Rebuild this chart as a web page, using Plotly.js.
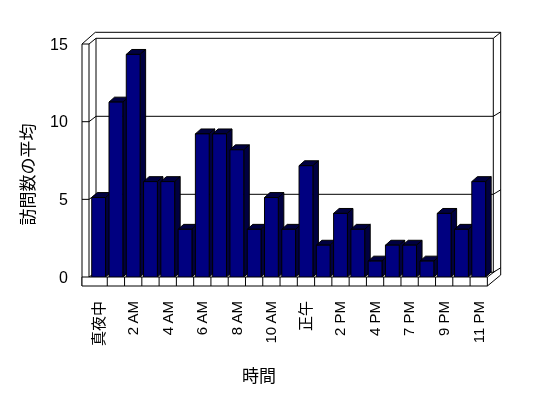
<!DOCTYPE html>
<html>
<head>
<meta charset="utf-8">
<script src="https://cdn.plot.ly/plotly-3.0.1.min.js"></script>
<style>html,body{margin:0;padding:0;background:#fff;} #chart{will-change:transform;}</style>
</head>
<body>
<div id="chart" style="width:548px;height:398px;"></div>
<script>
// ---- data ----
const hours = ["真夜中","1 AM","2 AM","3 AM","4 AM","5 AM","6 AM","7 AM","8 AM","9 AM","10 AM","11 AM",
               "正午","1 PM","2 PM","3 PM","4 PM","6 PM","7 PM","8 PM","9 PM","10 PM","11 PM"];
const visits = [5,11,14,6,6,3,9,9,8,3,5,3,7,2,4,3,1,2,2,1,4,3,6];
const labelIdx = [0,2,4,6,8,10,12,14,16,18,20,22];
const yTicks = [0,5,10,15];
const xTitle = "時間";
const yTitle = "訪問数の平均";

// ---- geometry ----
const FONT = 'Liberation Sans, "Noto Sans CJK JP", sans-serif';
const M = {l:90, r:52, t:38, b:121};
const W = 548 - M.l - M.r, H = 398 - M.t - M.b;
const px = v => (v - M.l) / W;          // pixel x -> paper
const py = v => (M.t + H - v) / H;      // pixel y -> paper
const catW = W / 23.5;
const BW = 0.8, DX = 0.32, DY = 0.31;

const shapes = [];
function seg(x0,y0,x1,y1){
  shapes.push({type:'line', xref:'paper', yref:'paper', layer:'below',
    x0:px(x0), y0:py(y0), x1:px(x1), y1:py(y1), line:{color:'#000', width:1}});
}
function rectP(x0,y0,x1,y1,fill){
  shapes.push({type:'rect', xref:'paper', yref:'paper', layer:'below',
    x0:px(x0), y0:py(y0), x1:px(x1), y1:py(y1), fillcolor:fill, line:{color:'#000', width:1}});
}
// walls
const floorRight = M.l + hours.length * catW;
seg(96,38.3,493.3,38.3);  seg(95.3,32.3,500.7,32.3);
seg(493.3,38.3,493.3,272); seg(500.7,32.3,500.7,275);
seg(493.3,38.3,500.7,32.3);
seg(82,44,82,286); seg(89,44,89,277); seg(96,38.3,96,272);
seg(82,44,89,44); seg(82,44,95.3,32.3); seg(89,44,96,38.3);
// gridlines on walls
[5,10].forEach(v=>{
  const yb = 272.3 - v*15.6, yf = 277 - v*15.53;
  seg(82,yf,89,yf); seg(89,yf,96,yb); seg(96,yb,493.3,yb); seg(493.3,yb,500.7,yb-4.5);
});
seg(89,277,96,272.3); seg(96,272.3,493.3,272.3); seg(493.3,272.3,500.7,267.8);
// floor front face
rectP(82,277,floorRight,286,'#fff');
for(let i=1;i<hours.length;i++){ const x = M.l + i*catW; seg(x,277,x,286); }
seg(floorRight,277,floorRight+8,271); seg(floorRight,286,500.7,275);

// 3D faces of bars (data coordinates)
visits.forEach((v,i)=>{
  const a = i - BW/2, b = i + BW/2;
  shapes.push({type:'path', xref:'x', yref:'y', layer:'below', fillcolor:'#000040', line:{color:'#000',width:1},
    path:`M${a},${v} L${b},${v} L${b+DX},${v+DY} L${a+DX},${v+DY} Z`});
  shapes.push({type:'path', xref:'x', yref:'y', layer:'below', fillcolor:'#000040', line:{color:'#000',width:1},
    path:`M${b},0 L${b},${v} L${b+DX},${v+DY} L${b+DX},${DY} Z`});
});

const traces = [
  {type:'bar', x:hours.map((_,i)=>i), y:visits, width:BW,
   marker:{color:'#000080', line:{color:'#000', width:1}}, hoverinfo:'none', showlegend:false},
  {type:'scatter', x:[0], y:[0], yaxis:'y2', mode:'markers', marker:{opacity:0}, hoverinfo:'skip', showlegend:false}
];

const layout = {
  width:548, height:398, margin:M, paper_bgcolor:'#fff', plot_bgcolor:'rgba(0,0,0,0)',
  showlegend:false, font:{family:FONT, color:'#000000', size:15},
  xaxis:{range:[-0.5, 23], tickmode:'array', tickvals:labelIdx, ticktext:labelIdx.map(i=>hours[i]),
         tickangle:-90, ticks:'outside', ticklen:17, tickcolor:'rgba(0,0,0,0)',
         showgrid:false, zeroline:false, showline:false, tickfont:{family:FONT, size:15, color:'#000000'}},
  yaxis:{range:[0, H/15.9], showticklabels:false, showgrid:false, zeroline:false, ticks:''},
  yaxis2:{overlaying:'y', side:'left', range:[0, H/15.53], tickmode:'array', tickvals:yTicks,
          ticks:'outside', ticklen:18, tickcolor:'rgba(0,0,0,0)', showgrid:false, zeroline:false, showline:false,
          tickfont:{family:FONT, size:16, color:'#000000'}},
  shapes:shapes,
  annotations:[
    {text:xTitle, xref:'paper', yref:'paper', x:px(259), y:py(376), showarrow:false,
     font:{family:FONT, size:17, color:'#000000'}, xanchor:'center', yanchor:'middle'},
    {text:yTitle, xref:'paper', yref:'paper', x:px(28.5), y:py(174), showarrow:false, textangle:-90,
     font:{family:FONT, size:17, color:'#000000'}, xanchor:'center', yanchor:'middle'}
  ]
};
Plotly.newPlot('chart', traces, layout, {staticPlot:true, displayModeBar:false});
</script>
</body>
</html>
